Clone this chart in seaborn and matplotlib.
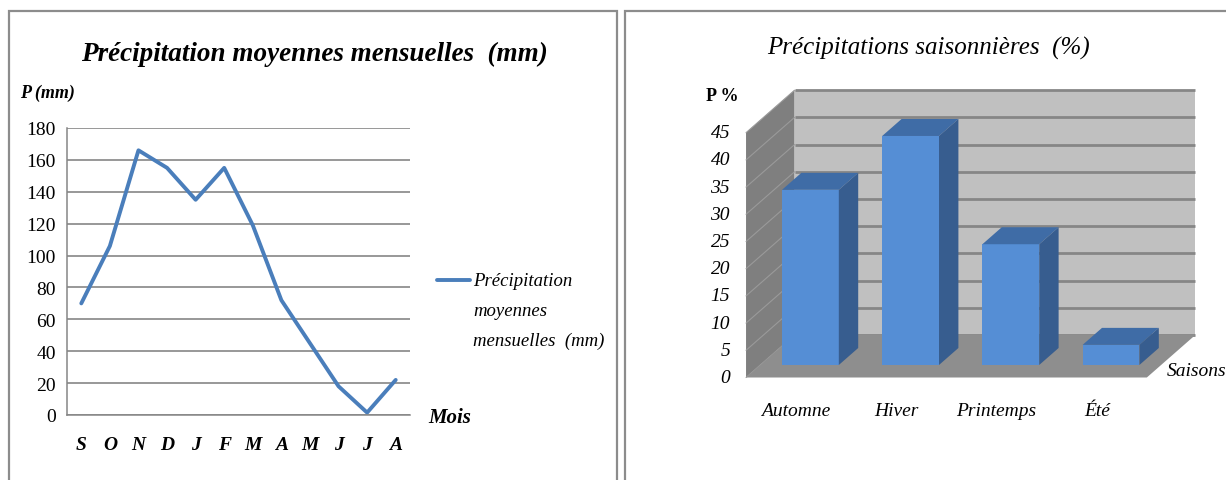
import numpy as np
import matplotlib
matplotlib.use("Agg")
import matplotlib.pyplot as plt
from matplotlib.patches import Polygon, Rectangle
from matplotlib.lines import Line2D
import seaborn as sns

# ---- data ----
mois = ["S", "O", "N", "D", "J", "F", "M", "A", "M", "J", "J", "A"]
precip_mm = [70, 106, 166, 155, 135, 155, 119, 72, 45, 18, 1.5, 22]

saisons = ["Automne", "Hiver", "Printemps", "Été"]
precip_pct = [32.2, 42.1, 22.2, 3.7]

y_ticks_mm = list(range(0, 181, 20))
y_ticks_pct = list(range(0, 46, 5))

sns.set_theme(style="white")
plt.rcParams["font.family"] = ["Liberation Serif", "DejaVu Serif"]
plt.rcParams["text.color"] = "black"
plt.rcParams["xtick.labelcolor"] = "black"
plt.rcParams["ytick.labelcolor"] = "black"

W, H = 1226, 481
fig = plt.figure(figsize=(W / 100, H / 100), dpi=100)
fig.patch.set_facecolor("white")


def fx(px):
    return px / W


def fy(py):
    return 1 - py / H


GRID = "#868686"
LINE = "#4A7EBB"

# panel frames
for x0, x1 in [(9, 617), (625, 1245)]:
    fig.add_artist(Rectangle((fx(x0), fy(500)), fx(x1) - fx(x0), fy(12) - fy(500),
                             transform=fig.transFigure, fill=False,
                             edgecolor="#8C8C8C", linewidth=1.6, clip_on=False))

# ================= left panel: monthly line =================
axL = fig.add_axes([fx(67), fy(416), fx(410) - fx(67), fy(129) - fy(416)])
x_pos = np.arange(len(mois))
sns.lineplot(x=x_pos, y=precip_mm, ax=axL, color=LINE, linewidth=2.8, sort=False)
axL.set_xlim(-0.5, len(mois) - 0.5)
axL.set_ylim(0, 180)
axL.set_yticks(y_ticks_mm)
axL.set_yticklabels([str(v) for v in y_ticks_mm], fontsize=14)
axL.set_xticks(x_pos)
axL.set_xticklabels(mois, fontsize=14, fontstyle="italic", fontweight="bold")
axL.set_xticks(np.arange(-0.5, len(mois)), minor=True)
axL.tick_params(axis="x", which="major", length=0, pad=15)
axL.tick_params(axis="x", which="minor", length=6, direction="out", color=GRID, width=1.1)
axL.tick_params(axis="y", length=5, direction="out", color=GRID, width=1.1, pad=3)
axL.grid(axis="y", color=GRID, linewidth=1.2)
axL.set_axisbelow(True)
for s in ["top", "right"]:
    axL.spines[s].set_visible(False)
for s in ["left", "bottom"]:
    axL.spines[s].set_color(GRID)
    axL.spines[s].set_linewidth(1.1)
axL.set_xlabel("")
axL.set_ylabel("")

fig.text(fx(314), fy(54), "Précipitation moyennes mensuelles  (mm)", ha="center", va="center",
         fontsize=19.5, fontstyle="italic", fontweight="bold")
fig.text(fx(20), fy(93), "P (mm)", ha="left", va="center", fontsize=13,
         fontstyle="italic", fontweight="bold")
fig.text(fx(428), fy(418), "Mois", ha="left", va="center", fontsize=15,
         fontstyle="italic", fontweight="bold")

# legend
fig.add_artist(Line2D([fx(437), fx(470)], [fy(281), fy(281)], color=LINE, linewidth=2.8,
                      transform=fig.transFigure))
for i, t in enumerate(["Précipitation", "moyennes", "mensuelles  (mm)"]):
    fig.text(fx(473), fy(282 + 29.5 * i), t, ha="left", va="center", fontsize=13.5,
             fontstyle="italic")

# ================= right panel: 3D-style seasonal bars =================
KX, KY = 100.2, 5.44          # pixels per category / per percent
OX, OY = 810.4, 366           # pixel position of first bar centre, baseline
ax_l, ax_r, ax_t, ax_b = 690, 1226, 60, 440
axR = fig.add_axes([fx(ax_l), fy(ax_b), fx(ax_r) - fx(ax_l), fy(ax_t) - fy(ax_b)])

FRONT = "#558ED5"
TOP = "#3F6CA6"
SIDE = "#375D8F"

sns.barplot(x=saisons, y=precip_pct, ax=axR, color=FRONT, saturation=1, width=0.567,
            zorder=5, linewidth=0)

axR.set_xlim((ax_l - OX) / KX, (ax_r - OX) / KX)
axR.set_ylim((OY - ax_b) / KY, (OY - ax_t) / KY)
axR.axis("off")

depth = np.array([48.5 / KX, 42.5 / KY])
front = -0.294 * depth
back = 0.706 * depth
bar_d = 0.40 * depth
n = len(saisons)
ymax = y_ticks_pct[-1]

xl, xr = -0.5, n - 0.5
# back wall
axR.add_patch(Polygon([(xl + back[0], back[1]), (xr + back[0], back[1]),
                       (xr + back[0], ymax + back[1]), (xl + back[0], ymax + back[1])],
                      closed=True, facecolor="#C0C0C0", edgecolor="none", zorder=1))
# left wall
axR.add_patch(Polygon([(xl + front[0], front[1]), (xl + front[0], ymax + front[1]),
                       (xl + back[0], ymax + back[1]), (xl + back[0], back[1])],
                      closed=True, facecolor="#7F7F7F", edgecolor="none", zorder=1))
# grid on walls
for v in y_ticks_pct:
    axR.plot([xl + back[0], xr + back[0]], [v + back[1], v + back[1]],
             color="#868686", linewidth=2.0, zorder=2, solid_capstyle="butt")
    axR.plot([xl + front[0], xl + back[0]], [v + front[1], v + back[1]],
             color="#9A9A9A", linewidth=0.8, zorder=2)
# floor
axR.add_patch(Polygon([(xl + front[0], front[1]), (xr + front[0], front[1]),
                       (xr + back[0], back[1]), (xl + back[0], back[1])],
                      closed=True, facecolor="#8E8E8E", edgecolor="none", zorder=3))

# top and side faces of each bar
for p in axR.patches:
    if not hasattr(p, "get_width") or p.get_zorder() != 5:
        continue
    x0, w, h = p.get_x(), p.get_width(), p.get_height()
    axR.add_patch(Polygon([(x0, h), (x0 + w, h), (x0 + w + bar_d[0], h + bar_d[1]),
                           (x0 + bar_d[0], h + bar_d[1])],
                          closed=True, facecolor=TOP, edgecolor="none", zorder=5))
    axR.add_patch(Polygon([(x0 + w, 0), (x0 + w + bar_d[0], bar_d[1]),
                           (x0 + w + bar_d[0], h + bar_d[1]), (x0 + w, h)],
                          closed=True, facecolor=SIDE, edgecolor="none", zorder=5))

# axis labels
for v in y_ticks_pct:
    axR.text((730 - OX) / KX, v + front[1], str(v), ha="right", va="center",
             fontsize=14, fontstyle="italic")
for i, s in enumerate(saisons):
    axR.text(i + front[0], (OY - 412) / KY, s, ha="center", va="center",
             fontsize=14, fontstyle="italic")
axR.text((1167 - OX) / KX, (OY - 372) / KY, "Saisons", ha="left", va="center",
         fontsize=14, fontstyle="italic")
axR.text((722 - OX) / KX, (OY - 97) / KY, "P %", ha="center", va="center",
         fontsize=13, fontweight="bold")

fig.text(fx(929), fy(48), "Précipitations saisonnières  (%)", ha="center", va="center",
         fontsize=18, fontstyle="italic")

fig.savefig("out.png", dpi=100, facecolor="white")
